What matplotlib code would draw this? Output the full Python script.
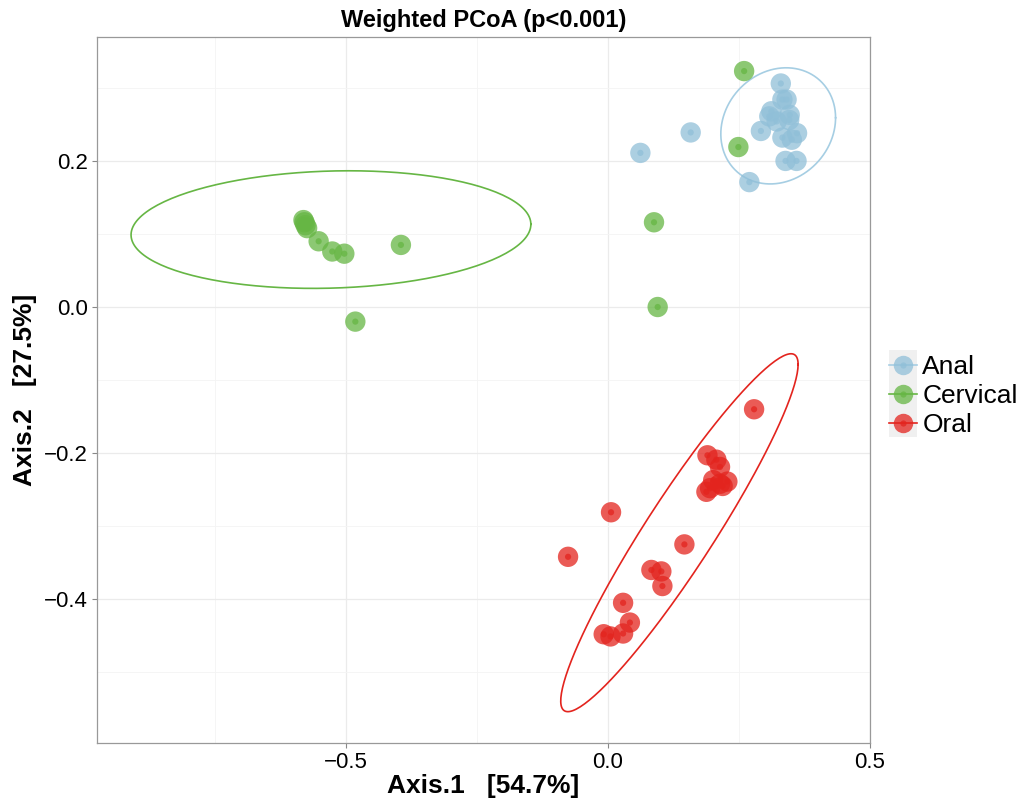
import numpy as np
import matplotlib
matplotlib.use("Agg")
import matplotlib.pyplot as plt
from matplotlib.legend_handler import HandlerBase
from matplotlib.patches import Rectangle
from matplotlib.lines import Line2D

plt.rcParams['font.family'] = ['Liberation Sans', 'DejaVu Sans']

# PCoA coordinates
anal_x = [0.062, 0.158, 0.270, 0.292, 0.330, 0.333, 0.341, 0.312, 0.308, 0.322,
          0.347, 0.346, 0.333, 0.351, 0.361, 0.339, 0.360]
anal_y = [0.211, 0.239, 0.171, 0.241, 0.306, 0.284, 0.284, 0.268, 0.261, 0.254,
          0.263, 0.256, 0.232, 0.229, 0.238, 0.200, 0.200]

cerv_x = [-0.581, -0.579, -0.577, -0.574, -0.552, -0.526, -0.503, -0.395, -0.482,
          0.088, 0.095, 0.260, 0.249]
cerv_y = [0.119, 0.116, 0.112, 0.108, 0.090, 0.076, 0.073, 0.085, -0.020,
          0.116, 0.000, 0.323, 0.219]

oral_x = [0.279, 0.190, 0.207, 0.214, 0.201, 0.214, 0.228, 0.219, 0.188, 0.195,
          0.006, -0.076, 0.146, 0.083, 0.102, 0.104, 0.029, 0.042, 0.029, -0.008, 0.005]
oral_y = [-0.140, -0.203, -0.209, -0.219, -0.237, -0.242, -0.239, -0.245, -0.253, -0.248,
          -0.281, -0.342, -0.325, -0.360, -0.362, -0.382, -0.405, -0.432, -0.447, -0.448, -0.451]

groups = ['Anal', 'Cervical', 'Oral']
point_colors = ['#90BFD8', '#66B644', '#E3241E']
line_colors = ['#A6CEE3', '#66B644', '#E3241E']

# ellipse: centre x, centre y, half extent x, half extent y, correlation
ell_cx = [0.325, -0.5285, 0.1365]
ell_cy = [0.248, 0.106, -0.309]
ell_sx = [0.1095, 0.3815, 0.2265]
ell_sy = [0.0795, 0.0805, 0.245]
ell_r = [0.14, 0.09, 0.94]


def ellipse_xy(cx, cy, sx, sy, r, n=200):
    t = np.linspace(0, 2 * np.pi, n)
    cov = np.array([[sx * sx, r * sx * sy], [r * sx * sy, sy * sy]])
    L = np.linalg.cholesky(cov)
    pts = L @ np.vstack([np.cos(t), np.sin(t)])
    return cx + pts[0], cy + pts[1]


class KeyHandler(HandlerBase):
    def create_artists(self, legend, orig_handle, xdescent, ydescent,
                       width, height, fontsize, trans):
        c = orig_handle.get_color()
        lc = orig_handle.get_markerfacecolor()
        bg = Rectangle((-xdescent, -ydescent - 2), width, height + 4,
                       facecolor='#F0F0F0', edgecolor='none', transform=trans)
        yc = -ydescent + height / 2
        ln = Line2D([-xdescent, -xdescent + width], [yc, yc], color=lc, lw=1.2,
                    transform=trans)
        big = Line2D([-xdescent + width / 2], [yc], marker='o', markersize=14,
                     color=c, alpha=0.75, markeredgewidth=0, linestyle='none',
                     transform=trans)
        small = Line2D([-xdescent + width / 2], [yc], marker='o', markersize=4.5,
                       color=c, alpha=0.75, markeredgewidth=0, linestyle='none',
                       transform=trans)
        return [bg, ln, big, small]


fig = plt.figure(figsize=(10.21, 7.99), dpi=100)
ax = fig.add_axes([0.095, 0.070, 0.757, 0.884])

xs = [anal_x, cerv_x, oral_x]
ys = [anal_y, cerv_y, oral_y]

for i in range(3):
    ex, ey = ellipse_xy(ell_cx[i], ell_cy[i], ell_sx[i], ell_sy[i], ell_r[i])
    ax.plot(ex, ey, color=line_colors[i], lw=1.2, zorder=2)

for i in range(3):
    ax.scatter(xs[i], ys[i], s=215, color=point_colors[i], alpha=0.75,
               edgecolors='none', zorder=3)
    ax.scatter(xs[i], ys[i], s=20, color=point_colors[i], alpha=0.75,
               edgecolors='none', zorder=4)

ax.set_xlim(-0.975, 0.5)
ax.set_ylim(-0.597, 0.370)
ax.set_xticks([-0.5, 0.0, 0.5])
ax.set_xticklabels(['\u22120.5', '0.0', '0.5'])
ax.set_yticks([-0.4, -0.2, 0.0, 0.2])
ax.set_yticklabels(['\u22120.4', '\u22120.2', '0.0', '0.2'])
ax.set_xticks([-0.75, -0.25, 0.25], minor=True)
ax.set_yticks([-0.5, -0.3, -0.1, 0.1, 0.3], minor=True)
ax.grid(which='major', color='#EBEBEB', lw=0.9)
ax.grid(which='minor', color='#F4F4F4', lw=0.6)
ax.set_axisbelow(True)
ax.tick_params(which='major', length=3.5, color='#888888', width=0.8,
               labelsize=16, labelcolor='black', pad=3)
ax.tick_params(which='minor', length=0)
for sp in ax.spines.values():
    sp.set_color('#999999')
    sp.set_linewidth(0.9)

ax.set_title('Weighted PCoA (p<0.001)', fontsize=17, fontweight='bold', pad=7)
ax.set_xlabel('Axis.1   [54.7%]', fontsize=19, fontweight='bold', labelpad=1)
ax.set_ylabel('Axis.2   [27.5%]', fontsize=19, fontweight='bold', labelpad=5)

handles = [Line2D([], [], color=point_colors[i], markerfacecolor=line_colors[i])
           for i in range(3)]
fig.legend(handles, groups, loc='center left', bbox_to_anchor=(0.871, 0.506),
           handler_map={Line2D: KeyHandler()}, frameon=False, fontsize=19,
           handlelength=1.05, handleheight=1.0, labelspacing=0.12,
           handletextpad=0.2, borderpad=0, borderaxespad=0)

fig.savefig('out.png', dpi=100)
